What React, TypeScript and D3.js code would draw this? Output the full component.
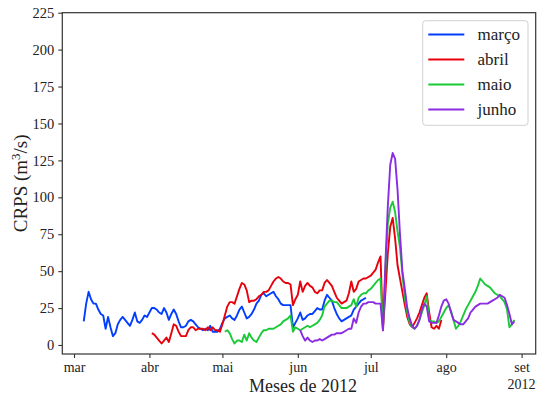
import React, { useEffect, useRef } from "react";
import * as d3 from "d3";

// daily CRPS values, one array per forecast month
const marcoStart = new Date(2012, 2, 5);
const marco = [16, 28, 36, 31, 28, 28, 24, 21, 20, 11,
  19, 12, 6, 8, 14, 17, 19, 17, 15, 13,
  17, 22, 16, 15, 17, 20, 19, 22, 25, 25,
  24, 22, 21, 25, 22, 17, 21, 24, 21, 16,
  12, 12, 13, 16, 17, 16, 14, 12, 11, 10,
  11, 10, 13, 9, 9, 9, 11, 15, 18, 19,
  20, 18, 17, 20, 24, 26, 22, 18, 19, 21,
  24, 28, 30, 34, 35, 33, 34, 35, 36, 33,
  31, 28, 27, 27, 27, 27, 12, 15, 18, 22,
  17, 18, 20, 21, 21, 23, 25, 24, 24, 30,
  34, 32, 30, 25, 21, 18, 16, 17, 18, 19,
  20, 24, 26, 28, 30, 31, 32];

const abrilStart = new Date(2012, 3, 2);
const abril = [8, 7, 5, 3, 1, 3, 5, 2, 8, 14,
  13, 9, 6, 6, 6, 10, 12, 12, 10, 11,
  11, 11, 10, 12, 10, 12, 10, 10, 9, 14,
  20, 26, 29, 29, 28, 33, 38, 42, 41, 37,
  29, 30, 30, 31, 33, 34, 36, 36, 37, 40,
  43, 45, 46, 45, 43, 42, 42, 41, 27, 31,
  34, 43, 36, 40, 42, 40, 39, 36, 35, 37,
  37, 42, 44, 42, 40, 36, 32, 30, 28, 29,
  30, 35, 43, 36, 38, 43, 44, 45, 45, 46,
  47, 49, 51, 56, 60, 10, 35, 62, 80, 86,
  72, 54, 45, 36, 27, 19, 14, 12, 15, 18,
  22, 27, 32, 35, 22, 12, 11, 13, 11, 17];

const maioStart = new Date(2012, 4, 2);
const maio = [9, 10, 8, 4, 1, 3, 3, 2, 7, 3,
  8, 5, 3, 2, 5, 8, 10, 10, 11, 11,
  11, 12, 13, 14, 16, 17, 18, 20, 9, 12,
  11, 10, 11, 12, 13, 12, 13, 14, 15, 17,
  20, 26, 28, 30, 30, 29, 29, 27, 25, 25,
  25, 26, 27, 31, 26, 32, 34, 35, 35, 37,
  38, 40, 42, 44, 45, 11, 50, 82, 93, 97,
  90, 77, 66, 48, 32, 22, 15, 12, 11, 13,
  17, 22, 27, 33, 17, 16, 16, 15, 16, 19,
  22, 25, 27, 23, 17, 11, 13, 16, 20, 24,
  27, 30, 33, 36, 40, 45, 43, 41, 40, 39,
  37, 35, 34, 33, 31, 29, 24, 12, 14, 17];

const junhoStart = new Date(2012, 5, 2);
const junho = [10, 6, 3, 5, 3, 2, 3, 3, 4, 3,
  4, 5, 6, 7, 7, 8, 8, 8, 9, 10,
  11, 11, 18, 15, 22, 26, 28, 28, 29, 29,
  29, 28, 28, 28, 10, 55, 94, 122, 130, 126,
  105, 75, 50, 38, 25, 18, 13, 11, 13, 17,
  24, 28, 26, 16, 15, 15, 15, 20, 26, 30,
  31, 28, 22, 17, 16, 15, 14, 14, 16, 18,
  22, 24, 26, 27, 28, 28, 28, 28, 29, 30,
  31, 32, 34, 33, 32, 27, 21, 14, 16];

const seriesNames = ["março", "abril", "maio", "junho"];
const seriesColors = ["#023eff", "#e8000b", "#1ac938", "#8b2be2"];
const monthLabels = ["mar", "abr", "mai", "jun", "jul", "ago", "set"];
const yTicks = [0, 25, 50, 75, 100, 125, 150, 175, 200, 225];

const FONT = "'Liberation Serif', 'Times New Roman', serif";

export default function App() {
  const ref = useRef<SVGSVGElement>(null);

  useEffect(() => {
    const svg = d3.select(ref.current);
    svg.selectAll("*").remove();

    const left = 62.3, right = 535.7, top = 12.7, bottom = 354;

    const x = d3.scaleTime()
      .domain([new Date(2012, 1, 25, 4, 30), new Date(2012, 8, 6, 19)])
      .range([left, right]);
    const y = d3.scaleLinear().domain([-6.1, 225]).range([bottom, top]);

    const data = [
      { start: marcoStart, values: marco },
      { start: abrilStart, values: abril },
      { start: maioStart, values: maio },
      { start: junhoStart, values: junho },
    ];

    const line = d3.line<{ date: Date; value: number }>()
      .x(d => x(d.date))
      .y(d => y(d.value));

    const g = svg.append("g");

    data.forEach((s, i) => {
      const pts = s.values.map((v, k) => ({ date: d3.timeDay.offset(s.start, k), value: v }));
      g.append("path")
        .datum(pts)
        .attr("fill", "none")
        .attr("stroke", seriesColors[i])
        .attr("stroke-width", 1.9)
        .attr("stroke-linejoin", "round")
        .attr("d", line);
    });

    // frame
    svg.append("rect")
      .attr("x", left).attr("y", top)
      .attr("width", right - left).attr("height", bottom - top)
      .attr("fill", "none").attr("stroke", "#333").attr("stroke-width", 1.2);

    // y axis
    const yAxis = svg.append("g")
      .attr("transform", `translate(${left},0)`)
      .attr("font-family", FONT)
      .call(d3.axisLeft(y).tickValues(yTicks).tickSize(4).tickPadding(4));
    yAxis.attr("font-family", FONT).attr("font-size", 14.5);
    yAxis.select(".domain").remove();
    yAxis.selectAll("line").attr("stroke", "#333").attr("stroke-width", 1.1);
    yAxis.selectAll("text").attr("fill", "#222");

    // x axis
    const months = d3.timeMonth.range(new Date(2012, 2, 1), new Date(2012, 8, 2));
    const xAxis = svg.append("g")
      .attr("transform", `translate(0,${bottom})`)
      .call(d3.axisBottom(x).tickValues(months).tickSize(4).tickPadding(4)
        .tickFormat((d, i) => monthLabels[i]));
    xAxis.attr("font-family", FONT).attr("font-size", 14);
    xAxis.select(".domain").remove();
    xAxis.selectAll("line").attr("stroke", "#333").attr("stroke-width", 1.1);
    xAxis.selectAll("text").attr("fill", "#222");

    svg.append("text")
      .attr("x", x(months[months.length - 1])).attr("y", 389)
      .attr("text-anchor", "middle")
      .attr("font-family", FONT).attr("font-size", 14).attr("fill", "#222")
      .text("2012");

    svg.append("text")
      .attr("x", (left + right) / 2 + 4).attr("y", 392)
      .attr("text-anchor", "middle")
      .attr("font-family", FONT).attr("font-size", 18).attr("fill", "#222")
      .text("Meses de 2012");

    const yl = svg.append("text")
      .attr("transform", `translate(27,${(top + bottom) / 2}) rotate(-90)`)
      .attr("text-anchor", "middle")
      .attr("font-family", FONT).attr("font-size", 19).attr("fill", "#222");
    yl.append("tspan").text("CRPS (m");
    yl.append("tspan").attr("dy", -7).attr("font-size", 13).text("3");
    yl.append("tspan").attr("dy", 7).text("/s)");

    // legend
    const lg = svg.append("g");
    lg.append("rect")
      .attr("x", 422.7).attr("y", 20.7).attr("width", 105.3).attr("height", 104.6)
      .attr("rx", 3).attr("fill", "white").attr("stroke", "#d0d0d0").attr("stroke-width", 1);
    seriesNames.forEach((name, i) => {
      const ry = 34.5 + i * 25;
      lg.append("line")
        .attr("x1", 428.3).attr("x2", 464.3).attr("y1", ry).attr("y2", ry)
        .attr("stroke", seriesColors[i]).attr("stroke-width", 1.9);
      lg.append("text")
        .attr("x", 477.5).attr("y", ry + 5)
        .attr("font-family", FONT).attr("font-size", 17).attr("fill", "#222")
        .text(name);
    });
  }, []);

  return (
    <svg ref={ref} width={537} height={398}
      style={{ position: "absolute", left: 0, top: 0, background: "white" }} />
  );
}
